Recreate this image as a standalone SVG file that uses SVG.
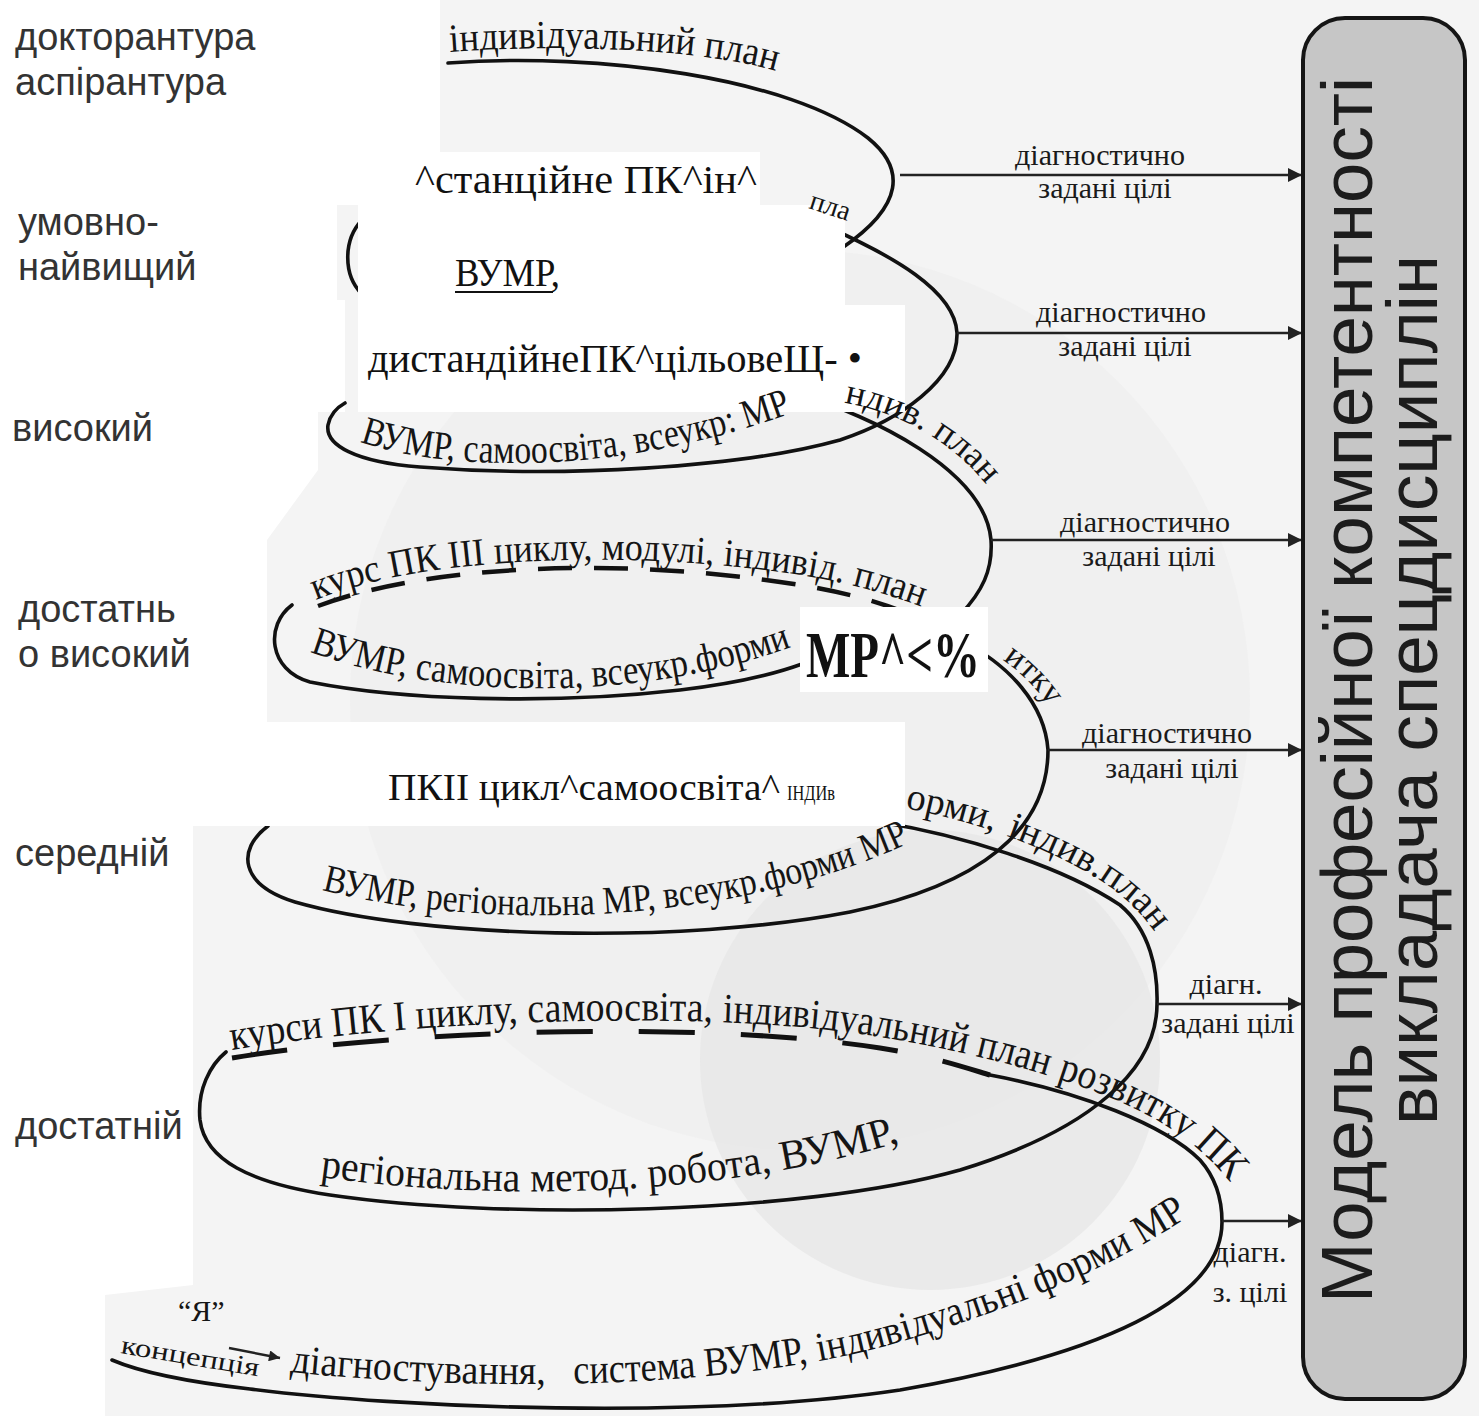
<svg xmlns="http://www.w3.org/2000/svg" width="1479" height="1416" viewBox="0 0 1479 1416">
<style>
.lvl{font-family:"Liberation Sans",Arial,sans-serif;font-size:38px;fill:#333}
.scan{font-family:"Liberation Serif","Times New Roman",serif;fill:#151515}
.curve{fill:none;stroke:#111;stroke-width:3.6;stroke-linecap:round}
.dash{fill:none;stroke:#111;stroke-width:4.5;stroke-dasharray:34 22}
.dash6{fill:none;stroke:#111;stroke-width:5;stroke-dasharray:56 46}
.arr{fill:none;stroke:#222;stroke-width:2.5}
.lab{font-family:"Liberation Serif","Times New Roman",serif;font-size:30px;fill:#1a1a1a}
.cover{fill:#fff}
.ocr{font-family:"Liberation Serif","Times New Roman",serif;fill:#111}
.title{font-family:"Liberation Sans",Arial,sans-serif;font-size:72px;fill:#1c1c1c}
</style>
<defs>
<marker id="ah" viewBox="0 0 10 10" refX="10" refY="5" markerUnits="userSpaceOnUse" markerWidth="22" markerHeight="14" orient="auto">
<path d="M0,0 L10,5 L0,10 z" fill="#222"/>
</marker>
<marker id="ahs" viewBox="0 0 10 10" refX="10" refY="5" markerUnits="userSpaceOnUse" markerWidth="16" markerHeight="11" orient="auto">
<path d="M0,0 L10,5 L0,10 z" fill="#222"/>
</marker>
<path id="p1" d="M450,52 C560,44 700,48 780,72"/>
<path id="p2" d="M360,442 C450,472 620,477 800,410"/>
<path id="p3b" d="M840,402 C900,412 955,442 992,492"/>
<path id="p3f" d="M310,652 C450,702 650,702 805,642"/>
<path id="p4b" d="M316,600 C420,557 620,550 780,572 C840,580 890,594 935,612"/>
<path id="p4r" d="M992,654 C1019,668 1042,692 1062,728"/>
<path id="p4f" d="M322,890 C480,930 720,928 905,845"/>
<path id="p5b" d="M905,808 C980,822 1060,852 1110,887 C1130,902 1145,917 1158,937"/>
<path id="p5f" d="M320,1177 C500,1202 720,1197 900,1142"/>
<path id="p6b" d="M232,1050 C400,1022 700,1007 880,1037 C1000,1057 1100,1087 1160,1122 C1188,1139 1210,1158 1228,1180"/>
<path id="p6f" d="M290,1372 C500,1394 750,1387 900,1342 C1020,1307 1110,1267 1180,1222"/>
<path id="pk" d="M120,1353 L262,1377"/>
</defs>

<g id="background">
<rect x="0" y="0" width="1479" height="1416" fill="#fff"/>
<path d="M440,0 L1479,0 L1479,1416 L105,1416 L105,1295 L193,1285 L193,826 L200,826 L200,722 L267,722 L267,540 L318,470 L318,412 L345,412 L345,300 L337,300 L337,205 L355,205 L355,152 L440,152 Z" fill="#f4f4f4"/>
<circle cx="800" cy="700" r="450" fill="#ececec" opacity="0.55"/>
<circle cx="930" cy="1060" r="230" fill="#e6e6e6" opacity="0.7"/>
</g>

<g id="connectors">
<path class="curve" d="M448,63 C600,52 790,78 868,138 C905,168 905,205 842,248"/>
<path class="curve" d="M362,220 C343,240 343,275 362,294"/>
<path class="curve" d="M830,228 C890,255 955,290 957,333 C958,380 900,420 840,440 C740,468 560,478 420,467 C355,462 325,445 328,425 C330,415 336,408 345,403"/>
<path class="curve" d="M800,395 C870,415 985,470 991,540 C993,570 982,592 960,615"/>
<path class="curve" d="M802,664 C780,672 740,683 680,690 C550,705 400,700 310,682 C268,670 265,625 292,605"/>
<path class="dash" d="M318,606 C430,564 620,558 780,582 C850,592 890,605 920,619"/>
<path class="curve" d="M960,640 C1010,665 1045,705 1048,750 C1048,830 980,885 850,912 C680,945 420,938 295,902 C240,885 236,850 268,826"/>
<path class="curve" d="M880,822 C960,835 1060,865 1120,905 C1150,930 1158,970 1157,1004 C1157,1070 1090,1130 960,1170 C800,1215 500,1220 330,1195 C250,1183 205,1160 200,1120 C197,1090 210,1065 226,1052"/>
<path class="dash6" d="M232,1058 C400,1030 700,1020 880,1048 C930,1056 960,1066 990,1075"/>
<path class="curve" d="M990,1075 C1080,1092 1165,1125 1200,1160 C1216,1178 1222,1200 1222,1222 C1222,1300 1100,1355 900,1390 C700,1420 400,1408 250,1389 C180,1381 140,1372 112,1360"/>
<path class="arr" d="M229,1348 L280,1358" marker-end="url(#ahs)"/>
<line class="arr" x1="900" y1="175" x2="1302" y2="175" marker-end="url(#ah)"/>
<line class="arr" x1="957" y1="333" x2="1302" y2="333" marker-end="url(#ah)"/>
<line class="arr" x1="991" y1="540" x2="1302" y2="540" marker-end="url(#ah)"/>
<line class="arr" x1="1048" y1="750" x2="1302" y2="750" marker-end="url(#ah)"/>
<line class="arr" x1="1157" y1="1004" x2="1302" y2="1004" marker-end="url(#ah)"/>
<line class="arr" x1="1222" y1="1221" x2="1302" y2="1221" marker-end="url(#ah)"/>
</g>

<g id="covers">
<rect class="cover" x="355" y="152" width="405" height="53"/>
<rect class="cover" x="358" y="205" width="487" height="100"/>
<rect class="cover" x="358" y="305" width="547" height="107"/>
<rect class="cover" x="800" y="607" width="188" height="85"/>
<rect class="cover" x="200" y="722" width="705" height="104"/>
</g>

<g id="levels">
<g id="lvl-doctor"><text class="lvl" x="15" y="50">докторантура</text><text class="lvl" x="15" y="95">аспірантура</text></g>
<g id="lvl-top"><text class="lvl" x="18" y="235">умовно-</text><text class="lvl" x="18" y="280">найвищий</text></g>
<g id="lvl-high"><text class="lvl" x="12" y="441">високий</text></g>
<g id="lvl-suff-high"><text class="lvl" x="18" y="622">достатнь</text><text class="lvl" x="18" y="667">о високий</text></g>
<g id="lvl-mid"><text class="lvl" x="15" y="866">середній</text></g>
<g id="lvl-suff"><text class="lvl" x="15" y="1139">достатній</text></g>
</g>

<g id="spiral-texts">
<g id="t-loop1"><text class="scan" font-size="40"><textPath href="#p1" textLength="328" lengthAdjust="spacingAndGlyphs">індивідуальний план</textPath></text></g>
<g id="t-frag"><text class="scan" font-size="28" x="808" y="208" transform="rotate(18 808 208)">пла</text></g>
<g id="t-loop2"><text class="scan" font-size="40"><textPath href="#p2" textLength="440" lengthAdjust="spacingAndGlyphs">ВУМР, самоосвіта, всеукр: МР</textPath></text></g>
<g id="t-loop3b"><text class="scan" font-size="36"><textPath href="#p3b" startOffset="4" textLength="168" lengthAdjust="spacingAndGlyphs">ндив. план</textPath></text></g>
<g id="t-loop3f"><text class="scan" font-size="40"><textPath href="#p3f" textLength="490" lengthAdjust="spacingAndGlyphs">ВУМР, самоосвіта, всеукр.форми</textPath></text></g>
<g id="t-loop4b"><text class="scan" font-size="39"><textPath href="#p4b" textLength="615" lengthAdjust="spacingAndGlyphs">курс ПК ІІІ циклу, модулі, індивід. план</textPath></text></g>
<g id="t-loop4r"><text class="scan" font-size="34"><textPath href="#p4r" startOffset="12">итку</textPath></text></g>
<g id="t-loop4f"><text class="scan" font-size="39"><textPath href="#p4f" textLength="600" lengthAdjust="spacingAndGlyphs">ВУМР, регіональна МР, всеукр.форми МР</textPath></text></g>
<g id="t-loop5b">
<text class="scan" font-size="38"><textPath href="#p5b" textLength="92" lengthAdjust="spacingAndGlyphs">орми,</textPath></text>
<text class="scan" font-size="38"><textPath href="#p5b" startOffset="105" textLength="180" lengthAdjust="spacingAndGlyphs">індив.план</textPath></text>
</g>
<g id="t-loop5f">
<text class="scan" font-size="42"><textPath href="#p5f" textLength="454" lengthAdjust="spacingAndGlyphs">регіональна  метод. робота,</textPath></text>
<text class="scan" font-size="42"><textPath href="#p5f" startOffset="464" textLength="121" lengthAdjust="spacingAndGlyphs">ВУМР,</textPath></text>
</g>
<g id="t-loop6b">
<text class="scan" font-size="42"><textPath href="#p6b" textLength="482" lengthAdjust="spacingAndGlyphs">курси ПК І циклу, самоосвіта,</textPath></text>
<text class="scan" font-size="42"><textPath href="#p6b" startOffset="492" textLength="330" lengthAdjust="spacingAndGlyphs">індивідуальний план</textPath></text>
<text class="scan" font-size="42"><textPath href="#p6b" startOffset="832" textLength="205" lengthAdjust="spacingAndGlyphs">розвитку ПК</textPath></text>
</g>
<g id="t-loop6f">
<text class="scan" font-size="41"><textPath href="#p6f" textLength="256" lengthAdjust="spacingAndGlyphs">діагностування,</textPath></text>
<text class="scan" font-size="41"><textPath href="#p6f" startOffset="284" textLength="236" lengthAdjust="spacingAndGlyphs">система ВУМР,</textPath></text>
<text class="scan" font-size="41"><textPath href="#p6f" startOffset="530" textLength="400" lengthAdjust="spacingAndGlyphs">індивідуальні форми МР</textPath></text>
</g>
<g id="t-ya"><text class="scan" font-size="30" x="178" y="1321">“Я”</text><text class="scan" font-size="26"><textPath href="#pk" textLength="140" lengthAdjust="spacingAndGlyphs">концепція</textPath></text></g>
</g>

<g id="ocr-boxes">
<g id="box-a"><text class="ocr" font-size="40" x="415" y="193" textLength="342" lengthAdjust="spacingAndGlyphs">^станційне ПК^ін^</text></g>
<g id="box-b"><text class="ocr" font-size="40" x="455" y="286" textLength="105" lengthAdjust="spacingAndGlyphs">ВУМР,</text><line x1="455" y1="292" x2="553" y2="292" stroke="#111" stroke-width="2"/></g>
<g id="box-c"><text class="ocr" font-size="40" x="368" y="372" textLength="494" lengthAdjust="spacingAndGlyphs">дистандійнеПК^цільовеЩ- •</text></g>
<g id="box-d"><text class="ocr" transform="translate(806,677) scale(1,1.3)" x="0" y="0" font-size="50" font-weight="bold" textLength="174" lengthAdjust="spacingAndGlyphs">MP^&lt;%</text></g>
<g id="box-e"><text class="ocr" x="388" y="800" font-size="38" textLength="392" lengthAdjust="spacingAndGlyphs">ПКІІ цикл^самоосвіта^</text><text class="ocr" x="787" y="800" font-size="21" textLength="48" lengthAdjust="spacingAndGlyphs">ІНДИв</text></g>
</g>

<g id="goal-labels">
<g id="g1"><text class="lab" x="1100" y="165" text-anchor="middle" textLength="170" lengthAdjust="spacingAndGlyphs">діагностично</text><text class="lab" x="1105" y="198" text-anchor="middle">задані цілі</text></g>
<g id="g2"><text class="lab" x="1121" y="322" text-anchor="middle" textLength="170" lengthAdjust="spacingAndGlyphs">діагностично</text><text class="lab" x="1125" y="356" text-anchor="middle">задані цілі</text></g>
<g id="g3"><text class="lab" x="1145" y="532" text-anchor="middle" textLength="170" lengthAdjust="spacingAndGlyphs">діагностично</text><text class="lab" x="1149" y="566" text-anchor="middle">задані цілі</text></g>
<g id="g4"><text class="lab" x="1167" y="743" text-anchor="middle" textLength="170" lengthAdjust="spacingAndGlyphs">діагностично</text><text class="lab" x="1172" y="778" text-anchor="middle">задані цілі</text></g>
<g id="g5"><text class="lab" x="1226" y="994" text-anchor="middle">діагн.</text><text class="lab" x="1228" y="1033" text-anchor="middle">задані цілі</text></g>
<g id="g6"><text class="lab" x="1250" y="1262" text-anchor="middle">діагн.</text><text class="lab" x="1250" y="1302" text-anchor="middle">з. цілі</text></g>
</g>

<g id="model-box">
<rect x="1303" y="18" width="162" height="1381" rx="42" ry="42" fill="#c6c6c6" stroke="#151515" stroke-width="4"/>
<text class="title" transform="translate(1372,690) rotate(-90)" text-anchor="middle" textLength="1226" lengthAdjust="spacingAndGlyphs">Модель професійної компетентності</text>
<text class="title" transform="translate(1437,690) rotate(-90)" text-anchor="middle" textLength="870" lengthAdjust="spacingAndGlyphs">викладача спецдисциплін</text>
</g>
</svg>
